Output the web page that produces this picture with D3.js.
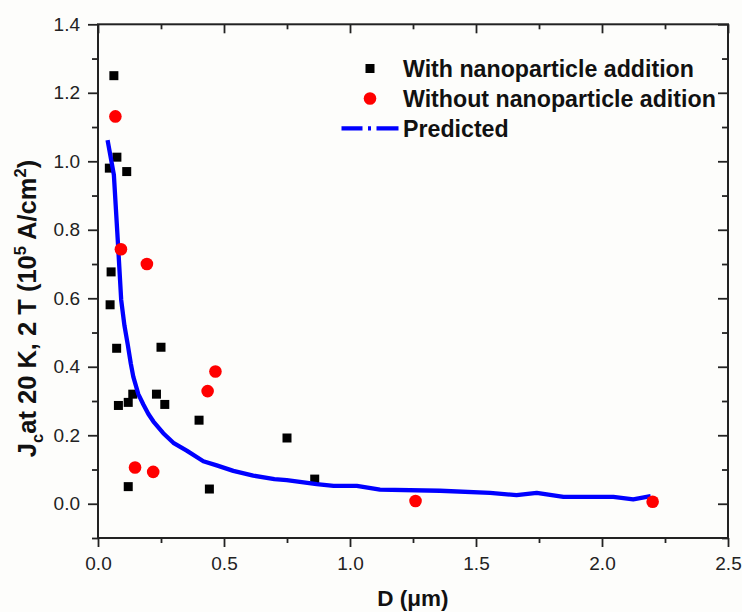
<!DOCTYPE html>
<html>
<head>
<meta charset="utf-8">
<script src="https://cdn.jsdelivr.net/npm/d3@7"></script>
<style>
  html, body { margin: 0; padding: 0; background: #ffffff; }
  svg { display: block; }
</style>
</head>
<body>
<svg id="chart" width="742" height="612"></svg>
<script>
// Measured critical current density vs. grain size D
const withNanoD  = [0.063, 0.045, 0.075, 0.114, 0.052, 0.048, 0.074, 0.250, 0.081, 0.120, 0.138, 0.232, 0.265, 0.401, 0.750, 0.860, 0.120, 0.442];
const withNanoJc = [1.250, 0.980, 1.012, 0.970, 0.677, 0.581, 0.454, 0.457, 0.287, 0.296, 0.320, 0.320, 0.290, 0.244, 0.192, 0.072, 0.050, 0.043];

const withoutNanoD  = [0.069, 0.091, 0.194, 0.466, 0.435, 0.147, 0.219, 1.260, 2.201];
const withoutNanoJc = [1.131, 0.743, 0.700, 0.386, 0.329, 0.106, 0.093, 0.008, 0.006];

// Model prediction
const predictedD  = [0.038, 0.063, 0.080, 0.092, 0.105, 0.118, 0.130, 0.140, 0.160, 0.180, 0.200, 0.220, 0.259, 0.299, 0.352, 0.418, 0.471, 0.537, 0.616, 0.700, 0.749, 0.868, 0.935, 1.027, 1.119, 1.357, 1.556, 1.661, 1.741, 1.847, 2.045, 2.124, 2.193];
const predictedJc = [1.062, 0.960, 0.750, 0.595, 0.520, 0.465, 0.410, 0.371, 0.320, 0.290, 0.262, 0.240, 0.206, 0.178, 0.155, 0.124, 0.112, 0.096, 0.082, 0.072, 0.069, 0.057, 0.052, 0.052, 0.041, 0.038, 0.032, 0.025, 0.032, 0.020, 0.020, 0.013, 0.022];

const xTickValues = [0.0, 0.5, 1.0, 1.5, 2.0, 2.5];
const xMinorValues = [0.25, 0.75, 1.25, 1.75, 2.25];
const yTickValues = [0.0, 0.2, 0.4, 0.6, 0.8, 1.0, 1.2, 1.4];
const yMinorValues = [-0.1, 0.1, 0.3, 0.5, 0.7, 0.9, 1.1, 1.3];

const legendLabels = ["With nanoparticle addition", "Without nanoparticle adition", "Predicted"];

const svg = d3.select("#chart");
const W = 742, H = 612;
svg.append("rect").attr("width", W).attr("height", H).attr("fill", "#fdfdfb");

const plot = { left: 98, right: 728, top: 24.3, bottom: 538 };
const x = d3.scaleLinear().domain([0, 2.5]).range([plot.left, plot.right]);
const y = d3.scaleLinear().domain([-0.1, 1.4]).range([plot.bottom, plot.top]);

const axisColor = "#222";
const tickFont = "Liberation Sans, Arial, sans-serif";

function styleAxis(g) {
  g.select(".domain").remove();
  g.selectAll("line").attr("stroke", axisColor).attr("stroke-width", 1.8);
  g.selectAll("text").attr("fill", axisColor).attr("font-family", tickFont).attr("font-size", 19);
}

// bottom axis
svg.append("g").attr("transform", `translate(0,${plot.bottom})`)
  .call(d3.axisBottom(x).tickValues(xTickValues).tickSize(9).tickPadding(10).tickFormat(d3.format(".1f")))
  .call(styleAxis);
svg.append("g").attr("transform", `translate(0,${plot.bottom})`)
  .call(d3.axisBottom(x).tickValues(xMinorValues).tickSize(5).tickFormat(""))
  .call(styleAxis);
// top axis (inward)
svg.append("g").attr("transform", `translate(0,${plot.top})`)
  .call(d3.axisTop(x).tickValues(xTickValues).tickSize(-9).tickFormat(""))
  .call(styleAxis);
svg.append("g").attr("transform", `translate(0,${plot.top})`)
  .call(d3.axisTop(x).tickValues(xMinorValues).tickSize(-5).tickFormat(""))
  .call(styleAxis);
// left axis
svg.append("g").attr("transform", `translate(${plot.left},0)`)
  .call(d3.axisLeft(y).tickValues(yTickValues).tickSize(10).tickPadding(8).tickFormat(d3.format(".1f")))
  .call(styleAxis);
svg.append("g").attr("transform", `translate(${plot.left},0)`)
  .call(d3.axisLeft(y).tickValues(yMinorValues).tickSize(6).tickFormat(""))
  .call(styleAxis);
// right axis (inward)
svg.append("g").attr("transform", `translate(${plot.right},0)`)
  .call(d3.axisRight(y).tickValues(yTickValues).tickSize(-10).tickFormat(""))
  .call(styleAxis);
svg.append("g").attr("transform", `translate(${plot.right},0)`)
  .call(d3.axisRight(y).tickValues(yMinorValues).tickSize(-6).tickFormat(""))
  .call(styleAxis);

// frame
svg.append("rect")
  .attr("x", plot.left).attr("y", plot.top)
  .attr("width", plot.right - plot.left).attr("height", plot.bottom - plot.top)
  .attr("fill", "none").attr("stroke", axisColor).attr("stroke-width", 2);

// squares: with nanoparticle addition
const sq = 9;
svg.append("g").selectAll("rect")
  .data(d3.zip(withNanoD, withNanoJc))
  .join("rect")
  .attr("x", d => x(d[0]) - sq / 2)
  .attr("y", d => y(d[1]) - sq / 2)
  .attr("width", sq).attr("height", sq)
  .attr("fill", "#000");

// predicted curve
const line = d3.line().x(d => x(d[0])).y(d => y(d[1]));
svg.append("path")
  .datum(d3.zip(predictedD, predictedJc))
  .attr("d", line)
  .attr("fill", "none")
  .attr("stroke", "#0000ff")
  .attr("stroke-width", 4.3)
  .attr("stroke-linejoin", "round");

// circles: without nanoparticle addition
svg.append("g").selectAll("circle")
  .data(d3.zip(withoutNanoD, withoutNanoJc))
  .join("circle")
  .attr("cx", d => x(d[0]))
  .attr("cy", d => y(d[1]))
  .attr("r", 6.3)
  .attr("fill", "#ff0000");

// legend
const legend = svg.append("g");
const lx = 370, ly = [68.5, 98.5, 128.3];
legend.append("rect").attr("x", lx - sq / 2).attr("y", ly[0] - sq / 2).attr("width", sq).attr("height", sq).attr("fill", "#000");
legend.append("circle").attr("cx", lx).attr("cy", ly[1]).attr("r", 6.3).attr("fill", "#ff0000");
legend.append("line")
  .attr("x1", 341.5).attr("x2", 398.5).attr("y1", ly[2]).attr("y2", ly[2])
  .attr("stroke", "#0000ff").attr("stroke-width", 4.3)
  .attr("stroke-dasharray", "21,5.5,3,5.5,22");
legend.selectAll("text.leg")
  .data(legendLabels)
  .join("text")
  .attr("class", "leg")
  .attr("x", 403)
  .attr("y", (d, i) => ly[i] + 8.3)
  .attr("font-family", tickFont)
  .attr("font-weight", "bold")
  .attr("font-size", 23.2)
  .attr("fill", "#111")
  .text(d => d);

// x axis title
svg.append("text")
  .attr("x", (plot.left + plot.right) / 2)
  .attr("y", 606)
  .attr("text-anchor", "middle")
  .attr("font-family", tickFont)
  .attr("font-weight", "bold")
  .attr("font-size", 22.5)
  .attr("fill", "#111")
  .text("D (μm)");

// y axis title
const yt = svg.append("text")
  .attr("transform", "translate(36,308.5) rotate(-90)")
  .attr("text-anchor", "middle")
  .attr("font-family", tickFont)
  .attr("font-weight", "bold")
  .attr("font-size", 25.5)
  .attr("fill", "#111");
yt.append("tspan").text("J");
yt.append("tspan").attr("font-size", 16.5).attr("dy", 6.5).text("c");
yt.append("tspan").attr("dy", -6.5).text("at 20 K, 2 T (10");
yt.append("tspan").attr("font-size", 16.5).attr("dy", -10).text("5");
yt.append("tspan").attr("dy", 10).text(" A/cm");
yt.append("tspan").attr("font-size", 16.5).attr("dy", -10).text("2");
yt.append("tspan").attr("dy", 10).text(")");
</script>
</body>
</html>
